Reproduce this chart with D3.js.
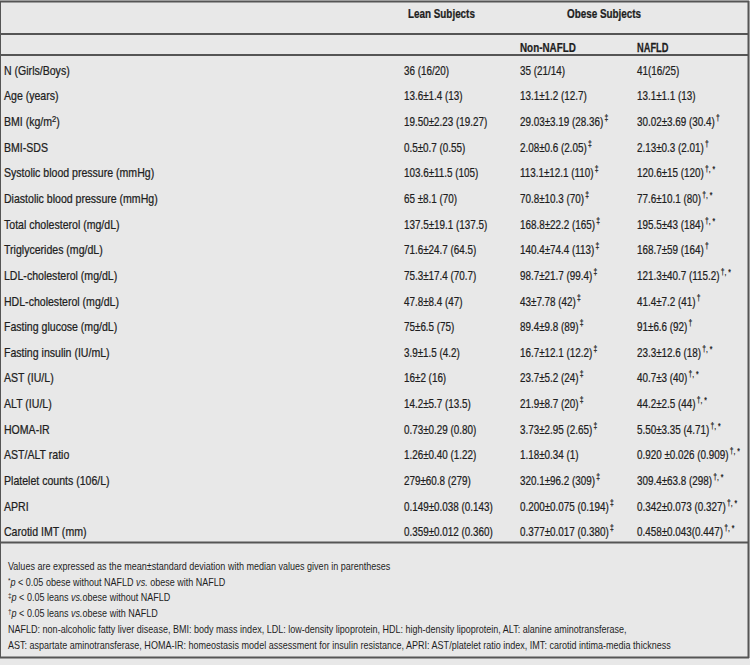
<!DOCTYPE html>
<html>
<head>
<meta charset="utf-8">
<script src="https://cdn.jsdelivr.net/npm/d3@7"></script>
<style>
  html, body { margin: 0; padding: 0; background: #e8e8e8; }
  svg { display: block; }
  text { font-family: "Liberation Sans", Arial, sans-serif; fill: #1e1e1e; }
  .tbl text { stroke: #1e1e1e; stroke-width: 0.25; }
</style>
</head>
<body>
<svg id="chart" width="750" height="665"></svg>
<script>
// ---- data ----
const rowLabels = [
  "N (Girls/Boys)", "Age (years)", "BMI (kg/m^2)", "BMI-SDS",
  "Systolic blood pressure (mmHg)", "Diastolic blood pressure (mmHg)",
  "Total cholesterol (mg/dL)", "Triglycerides (mg/dL)", "LDL-cholesterol (mg/dL)",
  "HDL-cholesterol (mg/dL)", "Fasting glucose (mg/dL)", "Fasting insulin (IU/mL)",
  "AST (IU/L)", "ALT (IU/L)", "HOMA-IR", "AST/ALT ratio", "Platelet counts (106/L)",
  "APRI", "Carotid IMT (mm)"
];
const groupHeaders = ["Lean Subjects", "Obese Subjects"];
const subHeaders = ["Non-NAFLD", "NAFLD"];
const leanValues = [
  "36 (16/20)", "13.6±1.4 (13)", "19.50±2.23 (19.27)", "0.5±0.7 (0.55)",
  "103.6±11.5 (105)", "65 ±8.1 (70)", "137.5±19.1 (137.5)", "71.6±24.7 (64.5)",
  "75.3±17.4 (70.7)", "47.8±8.4 (47)", "75±6.5 (75)", "3.9±1.5 (4.2)",
  "16±2 (16)", "14.2±5.7 (13.5)", "0.73±0.29 (0.80)", "1.26±0.40 (1.22)",
  "279±60.8 (279)", "0.149±0.038 (0.143)", "0.359±0.012 (0.360)"
];
const nonNafldValues = [
  "35 (21/14)", "13.1±1.2 (12.7)", "29.03±3.19 (28.36)", "2.08±0.6 (2.05)",
  "113.1±12.1 (110)", "70.8±10.3 (70)", "168.8±22.2 (165)", "140.4±74.4 (113)",
  "98.7±21.7 (99.4)", "43±7.78 (42)", "89.4±9.8 (89)", "16.7±12.1 (12.2)",
  "23.7±5.2 (24)", "21.9±8.7 (20)", "3.73±2.95 (2.65)", "1.18±0.34 (1)",
  "320.1±96.2 (309)", "0.200±0.075 (0.194)", "0.377±0.017 (0.380)"
];
const nonNafldMarks = [
  "", "", "‡", "‡", "‡", "‡", "‡", "‡", "‡", "‡", "‡", "‡", "‡", "‡", "‡", "", "‡", "‡", "‡"
];
const nafldValues = [
  "41(16/25)", "13.1±1.1 (13)", "30.02±3.69 (30.4)", "2.13±0.3 (2.01)",
  "120.6±15 (120)", "77.6±10.1 (80)", "195.5±43 (184)", "168.7±59 (164)",
  "121.3±40.7 (115.2)", "41.4±7.2 (41)", "91±6.6 (92)", "23.3±12.6 (18)",
  "40.7±3 (40)", "44.2±2.5 (44)", "5.50±3.35 (4.71)", "0.920 ±0.026 (0.909)",
  "309.4±63.8 (298)", "0.342±0.073 (0.327)", "0.458±0.043(0.447)"
];
const nafldMarks = [
  "", "", "†", "†", "†, *", "†, *", "†, *", "†", "†, *", "†", "†", "†, *",
  "†, *", "†, *", "†, *", "†, *", "†, *", "†, *", "†, *"
];
const footnotes = [
  [["", "Values are expressed as the mean±standard deviation with median values given in parentheses"]],
  [["sup", "*"], ["i", "p"], ["", " < 0.05 obese without NAFLD "], ["i", "vs."], ["", " obese with NAFLD"]],
  [["sup", "‡"], ["i", "p"], ["", " < 0.05 leans "], ["i", "vs."], ["", "obese without NAFLD"]],
  [["sup", "†"], ["i", "p"], ["", " < 0.05 leans "], ["i", "vs."], ["", "obese with NAFLD"]],
  [["", "NAFLD: non-alcoholic fatty liver disease, BMI: body mass index, LDL: low-density lipoprotein, HDL: high-density lipoprotein, ALT: alanine aminotransferase,"]],
  [["", "AST: aspartate aminotransferase,  HOMA-IR: homeostasis model assessment for insulin resistance, APRI: AST/platelet ratio index, IMT: carotid intima-media thickness"]]
];

// ---- layout ----
const svg = d3.select("#chart");
const lineColor = "#555555";
const LSX = 0.845;    // horizontal condensing of row labels
const VSX = 0.79;     // horizontal condensing of values
const HSX = 0.79;     // headers
const FSX = 0.86;     // footnotes

const columns = ["label", "lean", "non", "nafld"];
const x = d3.scaleOrdinal().domain(columns).range([4, 404, 520, 637]);
const y = d3.scaleBand().domain(d3.range(rowLabels.length)).range([56, 543]);
const fy = d3.scalePoint().domain(d3.range(footnotes.length)).range([566, 645]);

function place(sel, px, py, sx) {
  return sel.attr("transform", `translate(${px},${py}) scale(${sx},1)`);
}

// borders
const hLines = [1.5, 34, 55, 542.5, 657.5];
svg.selectAll("line.h").data(hLines).join("line")
  .attr("x1", 0).attr("x2", 749).attr("y1", d => d).attr("y2", d => d)
  .attr("stroke", lineColor).attr("stroke-width", 2);
svg.append("line").attr("x1", 748.5).attr("x2", 748.5).attr("y1", 1).attr("y2", 658)
  .attr("stroke", lineColor).attr("stroke-width", 2);
svg.append("line").attr("x1", 0.5).attr("x2", 0.5).attr("y1", 1).attr("y2", 658)
  .attr("stroke", lineColor).attr("stroke-width", 1);

const tbl = svg.append("g").attr("class", "tbl");

// headers
const hdr = tbl.append("g").attr("font-weight", "bold").attr("font-size", 12.5);
place(hdr.append("text").text(groupHeaders[0]), 408, 17.5, HSX);
place(hdr.append("text").text(groupHeaders[1]), 567, 17.5, HSX);
place(hdr.append("text").text(subHeaders[0]), x("non"), 51.5, HSX);
place(hdr.append("text").text(subHeaders[1]), x("nafld"), 51.5, HSX * 0.94);

// rows
const rows = tbl.append("g").attr("font-size", 12.5)
  .selectAll("g.row").data(rowLabels).join("g")
  .attr("transform", (d, i) => `translate(0,${y(i) + y.bandwidth() / 2 + 6})`);

rows.append("text").each(function (d) {
  const t = d3.select(this);
  place(t, x("label"), 0, LSX);
  const parts = d.split("^");
  if (parts.length === 1) { t.text(d); return; }
  const m = parts[1].match(/^(\d+)(.*)$/);
  t.append("tspan").text(parts[0]);
  t.append("tspan").attr("dy", -4).attr("font-size", 9).text(m[1]);
  t.append("tspan").attr("dy", 4).text(m[2]);
});

rows.append("text").each(function (d, i) {
  place(d3.select(this), x("lean"), 0, VSX).text(leanValues[i]);
});

function valueWithMark(col, values, marks) {
  rows.append("text").each(function (d, i) {
    const t = place(d3.select(this), x(col), 0, VSX);
    t.append("tspan").text(values[i]);
    if (marks[i]) t.append("tspan").attr("dy", -5).attr("dx", 1.5).attr("font-size", 8.5).text(marks[i]);
  });
}
valueWithMark("non", nonNafldValues, nonNafldMarks);
valueWithMark("nafld", nafldValues, nafldMarks);

// footnotes
const foot = svg.append("g").attr("font-size", 10.5);
foot.selectAll("text").data(footnotes).join("text")
  .attr("transform", (d, i) => `translate(8,${fy(i) + 3.7}) scale(${FSX},1)`)
  .each(function (parts) {
    const t = d3.select(this);
    let shifted = false;
    parts.forEach(([kind, str]) => {
      const sp = t.append("tspan").text(str);
      if (kind === "sup") { sp.attr("dy", -3).attr("font-size", 7.5); shifted = true; }
      else {
        if (shifted) { sp.attr("dy", 3); shifted = false; }
        if (kind === "i") sp.attr("font-style", "italic");
      }
    });
  });
</script>
</body>
</html>
